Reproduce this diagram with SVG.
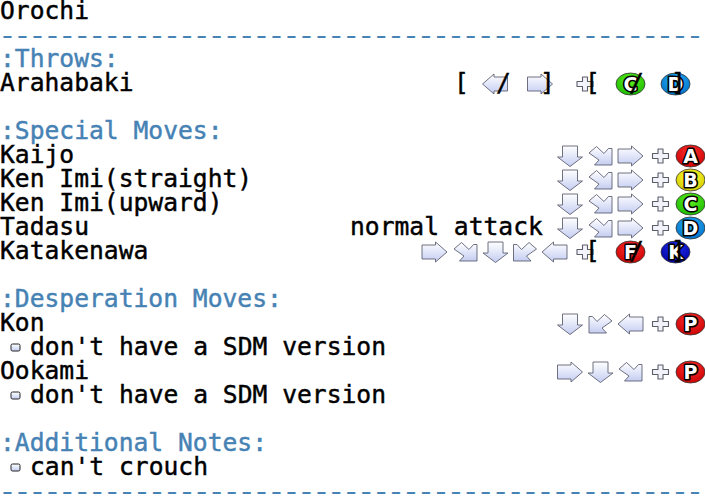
<svg xmlns="http://www.w3.org/2000/svg" width="705" height="504" viewBox="0 0 705 504">
<style>
text{font-family:"DejaVu Sans Mono","Liberation Mono",monospace;font-size:24.65px;fill:#000;stroke:#000;stroke-width:.45}
.h{fill:#4682b4;stroke:#4682b4}
.d{letter-spacing:-2.78px;stroke-width:.2}
.a{fill:url(#g);stroke:#5f6172;stroke-width:.9;stroke-linejoin:round}
.p{fill:#f2f3fb;stroke:#5c5e68;stroke-width:1.100;stroke-linejoin:round}
.b{stroke:#333;stroke-width:.8}
text.l{font-family:"DejaVu Sans","Liberation Sans",sans-serif;font-weight:bold;font-size:19px;text-anchor:middle;fill:#fff;stroke:#000;stroke-width:3.2;paint-order:stroke;stroke-linejoin:round}
.q{fill:url(#g);stroke:#222;stroke-width:1}
</style>
<defs>
<linearGradient id="g" x1="0" y1="0" x2="0" y2="1"><stop offset="0" stop-color="#ffffff"/><stop offset="1" stop-color="#c4cdf2"/></linearGradient>
<radialGradient id="r" cx=".5" cy=".35" r=".7"><stop offset="0" stop-color="#ff3030"/><stop offset="1" stop-color="#c80000"/></radialGradient>
<radialGradient id="y" cx=".5" cy=".35" r=".7"><stop offset="0" stop-color="#ffff30"/><stop offset="1" stop-color="#d0c800"/></radialGradient>
<radialGradient id="n" cx=".5" cy=".35" r=".7"><stop offset="0" stop-color="#60f020"/><stop offset="1" stop-color="#18b800"/></radialGradient>
<radialGradient id="c" cx=".5" cy=".35" r=".7"><stop offset="0" stop-color="#28aef5"/><stop offset="1" stop-color="#0070c8"/></radialGradient>
<radialGradient id="k" cx=".5" cy=".35" r=".7"><stop offset="0" stop-color="#2030f0"/><stop offset="1" stop-color="#0000a0"/></radialGradient>
<path id="R" class="a" d="M-12.500-7H1V-10L12.500 0 1 10V7H-12.500Z"/>
<path id="L" class="a" d="M12.500-7H-1V-10L-12.500 0-1 10V7H12.500Z"/>
<path id="D" class="a" d="M-7.500-10V1H-12.500L0 10.500 12.500 1H7.500V-10Z"/>
<path id="E" class="a" d="M-11.500-3-4-9.500 3.500-2.500 8-7.500H11.500V9H-6L-1.500 4Z"/>
<path id="W" class="a" d="M11.500-3 4-9.500-3.500-2.500-8-7.500H-11.500V9H6L1.500 4Z"/>
<path id="P" class="p" d="M-2.500-7H2.500V-2.500H8V2.500H2.500V7H-2.500V2.500H-8V-2.500H-2.500Z"/>
</defs>

<g id="text-left">
<text x="0" y="19">Orochi</text>
<text class="h d" transform="translate(-1.700 43.500) scale(1.240 1)">-----------------------------------------------</text>
<text class="h" x="0" y="67">:Throws:</text>
<text x="0" y="91">Arahabaki</text>
<text class="h" x="0" y="139">:Special Moves:</text>
<text x="0" y="163">Kaijo</text>
<text x="0" y="187">Ken Imi(straight)</text>
<text x="0" y="211">Ken Imi(upward)</text>
<text x="0" y="235">Tadasu</text>
<text x="350" y="235">normal attack</text>
<text x="0" y="259">Katakenawa</text>
<text class="h" x="0" y="307">:Desperation Moves:</text>
<text x="0" y="331">Kon</text>
<text x="30" y="355">don't have a SDM version</text>
<text x="0" y="379">Ookami</text>
<text x="30" y="403">don't have a SDM version</text>
<text class="h" x="0" y="451">:Additional Notes:</text>
<text x="30" y="475">can't crouch</text>
<text class="h d" transform="translate(-1.700 499.500) scale(1.240 1)">-----------------------------------------------</text>
<rect class="q" x="11" y="344" width="9" height="7" rx="1.500"/>
<rect class="q" x="11" y="392" width="9" height="7" rx="1.500"/>
<rect class="q" x="11" y="464" width="9" height="7" rx="1.500"/>
</g>

<g id="throw-row">
<use href="#L" x="495" y="84"/><use href="#R" x="540" y="84"/><use href="#P" x="585" y="84"/>
<ellipse class="b" cx="630.500" cy="84" rx="14.500" ry="11" fill="url(#n)"/><text class="l" x="630.500" y="91">C</text>
<ellipse class="b" cx="675.500" cy="84" rx="14.500" ry="11" fill="url(#c)"/><text class="l" x="675.500" y="91">D</text>
<text x="454" y="91">[</text><text x="496" y="91">/</text><text x="540" y="91">]</text>
<text x="585" y="91">[</text><text x="629" y="91">/</text><text x="671" y="91">]</text>
</g>

<g id="kaijo"><use href="#D" x="570" y="156"/><use href="#E" x="600.500" y="156"/><use href="#R" x="630.500" y="156"/><use href="#P" x="660.500" y="156"/>
<ellipse class="b" cx="690.500" cy="156" rx="14.500" ry="11" fill="url(#r)"/><text class="l" x="690.500" y="163">A</text></g>
<g id="ken-imi-straight"><use href="#D" x="570" y="180"/><use href="#E" x="600.500" y="180"/><use href="#R" x="630.500" y="180"/><use href="#P" x="660.500" y="180"/>
<ellipse class="b" cx="690.500" cy="180" rx="14.500" ry="11" fill="url(#y)"/><text class="l" x="690.500" y="187">B</text></g>
<g id="ken-imi-upward"><use href="#D" x="570" y="204"/><use href="#E" x="600.500" y="204"/><use href="#R" x="630.500" y="204"/><use href="#P" x="660.500" y="204"/>
<ellipse class="b" cx="690.500" cy="204" rx="14.500" ry="11" fill="url(#n)"/><text class="l" x="690.500" y="211">C</text></g>
<g id="tadasu"><use href="#D" x="570" y="228"/><use href="#E" x="600.500" y="228"/><use href="#R" x="630.500" y="228"/><use href="#P" x="660.500" y="228"/>
<ellipse class="b" cx="690.500" cy="228" rx="14.500" ry="11" fill="url(#c)"/><text class="l" x="690.500" y="235">D</text></g>

<g id="katakenawa"><use href="#R" x="434.500" y="252"/><use href="#E" x="465.500" y="252"/><use href="#D" x="495.500" y="252"/><use href="#W" x="525" y="252"/><use href="#L" x="554.500" y="252"/><use href="#P" x="585" y="252"/>
<ellipse class="b" cx="630.500" cy="252" rx="14.500" ry="11" fill="url(#r)"/><text class="l" x="630.500" y="259">F</text>
<ellipse class="b" cx="675.500" cy="252" rx="14.500" ry="11" fill="url(#k)"/><text class="l" x="675.500" y="259">K</text>
<text x="585" y="259">[</text><text x="629" y="259">/</text><text x="671" y="259">]</text></g>

<g id="kon"><use href="#D" x="570" y="324"/><use href="#W" x="600.500" y="324"/><use href="#L" x="630.500" y="324"/><use href="#P" x="660.500" y="324"/>
<ellipse class="b" cx="690.500" cy="324" rx="14.500" ry="11" fill="url(#r)"/><text class="l" x="690.500" y="331">P</text></g>
<g id="ookami"><use href="#R" x="570" y="372"/><use href="#D" x="600.500" y="372"/><use href="#E" x="630.500" y="372"/><use href="#P" x="660.500" y="372"/>
<ellipse class="b" cx="690.500" cy="372" rx="14.500" ry="11" fill="url(#r)"/><text class="l" x="690.500" y="379">P</text></g>
</svg>
